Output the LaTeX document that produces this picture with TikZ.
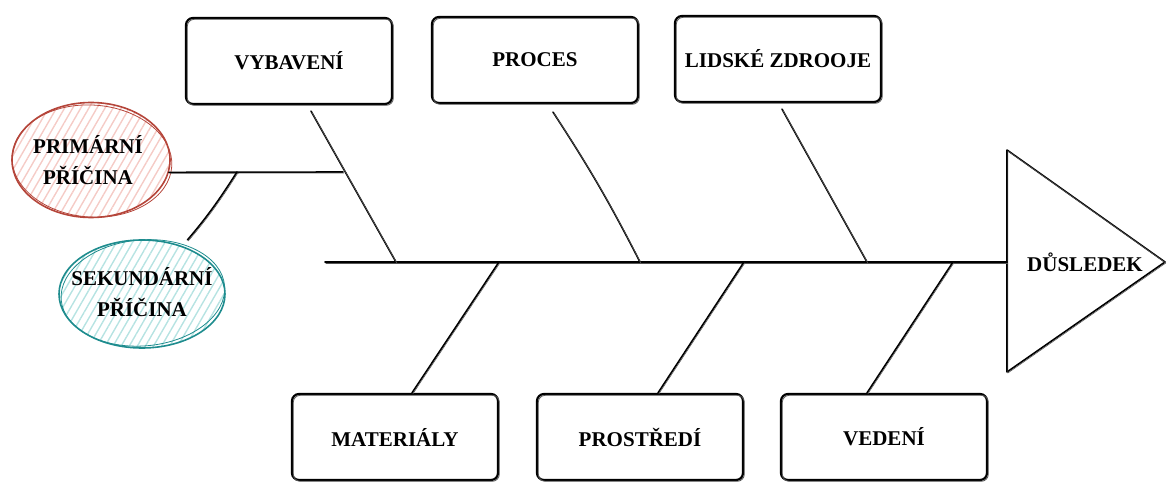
\documentclass[tikz,border=0pt]{standalone}
\usepackage{fontspec}
\setmainfont{Liberation Serif}
\usetikzlibrary{patterns.meta,shapes.geometric,calc}

\definecolor{causered}{HTML}{B5453A}
\definecolor{hatchred}{HTML}{F5CBC6}
\definecolor{causeteal}{HTML}{1E8C8E}
\definecolor{hatchteal}{HTML}{B6E3E2}
\definecolor{inkgrey}{HTML}{555555}

\tikzset{
  labeltext/.style={font=\bfseries\fontsize{21}{31}\selectfont, align=center, text=black},
  catbox/.style={labeltext, draw=black, line width=2.2pt, rounded corners=7pt,
    minimum width=206pt, minimum height=86pt, fill=white,
    postaction={draw=inkgrey, line width=0.8pt, rounded corners=11pt,
      transform canvas={shift={(1.3pt,-1.3pt)}}}},
  causeoval/.style={ellipse, line width=1.6pt, inner sep=0pt,
    pattern={Lines[angle=60,distance=7pt,line width=1.4pt]}},
  ovalstroke/.style={line width=0.8pt},
  sketch/.style={line width=1.6pt, line cap=round,
    postaction={draw=inkgrey, line width=0.6pt, transform canvas={shift={(0.8pt,-1pt)}}}},
}

\begin{document}
\begin{tikzpicture}[x=1pt,y=-1pt]
\useasboundingbox (0,0) rectangle (1173,486);

% category boxes
\node[catbox] (vyb)  at (289,61)  {VYBAVENÍ};
\node[catbox] (proc) at (535,60)  {PROCES};
\node[catbox] (lid)  at (778,59)  {LIDSKÉ ZDROOJE};
\node[catbox] (mat)  at (395,437) {MATERIÁLY};
\node[catbox] (pros) at (640,437) {PROSTŘEDÍ};
\node[catbox] (ved)  at (884,437) {VEDENÍ};

% cause ovals, each with a second loose stroke and its label on top
\node[causeoval, draw=causered, pattern color=hatchred,
  minimum width=158pt, minimum height=115pt] (prim) at (91,160) {};
\draw[ovalstroke, causered, rotate around={-4:(prim.center)}]
  ([xshift=1pt,yshift=-1pt]prim.center) ellipse [x radius=80, y radius=56];
\node[labeltext] (primtext) at ([xshift=-3pt]prim.center) {PRIMÁRNÍ\\PŘÍČINA};

\node[causeoval, draw=causeteal, pattern color=hatchteal,
  minimum width=166pt, minimum height=108pt] (sec) at (142,294) {};
\draw[ovalstroke, causeteal, rotate around={5:(sec.center)}]
  ([xshift=1pt,yshift=1pt]sec.center) ellipse [x radius=82, y radius=53];
\node[labeltext] (sectext) at ([yshift=2pt]sec.center) {SEKUNDÁRNÍ\\PŘÍČINA};

% effect head
\coordinate (tribase) at (1007,262);
\draw[sketch, line join=round] (1007,150) -- (1165,262) -- (1007,372) -- cycle;
\node[labeltext] (effect) at (1085,262) {DŮSLEDEK};

% spine and joints
\coordinate (spineL) at (325,262);
\coordinate (s1) at (396,262);
\coordinate (s2) at (640,262);
\coordinate (s3) at (867,262);
\coordinate (s4) at (499,262);
\coordinate (s5) at (744,262);
\coordinate (s6) at (953,262);
\coordinate (pjoin) at (343,172);
\coordinate (sjoin) at (237,172);

\draw[sketch] (spineL) -- (tribase);

% ribs
\draw[sketch] ([xshift=22pt,yshift=-6pt]vyb.south) -- (s1);
\draw[sketch] ([xshift=18pt,yshift=-8pt]proc.south) to[bend left=3] (s2);
\draw[sketch] ([xshift=4pt,yshift=-6pt]lid.south) -- (s3);
\draw[sketch] (s4) -- ([xshift=17pt]mat.north);
\draw[sketch] (s5) -- ([xshift=18pt]pros.north);
\draw[sketch] (s6) -- ([xshift=-17pt]ved.north);

% causes
\draw[sketch] (prim.-9) -- (pjoin);
\draw[sketch, shorten >=8pt] (sjoin) to[bend left=4] (sec.50);
\end{tikzpicture}
\end{document}
